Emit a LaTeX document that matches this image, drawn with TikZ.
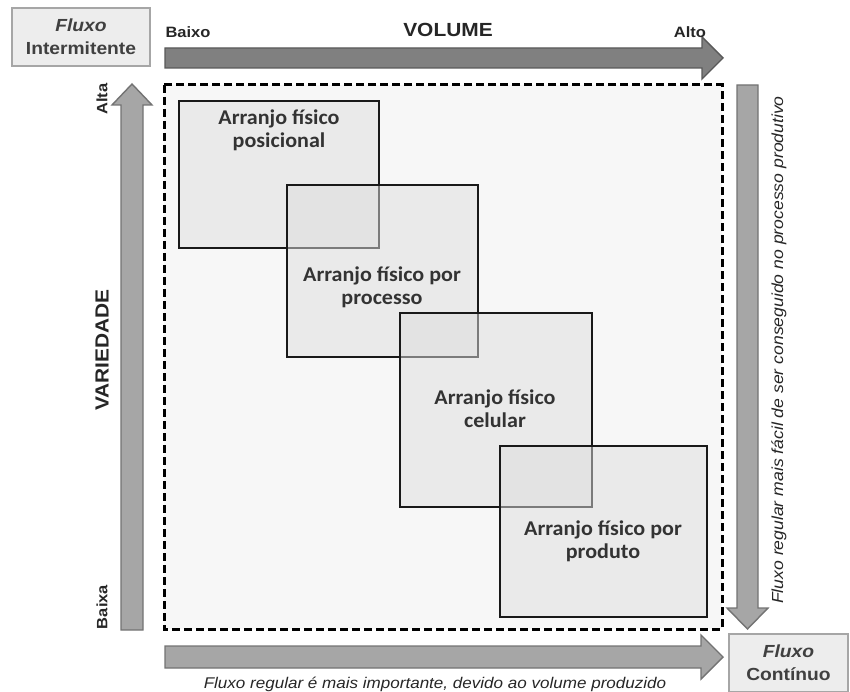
\documentclass[tikz,border=0pt]{standalone}
\usepackage{fontspec}
\setmainfont[FakeStretch=1.1]{Liberation Sans}
\newfontfamily\boxfont[FakeStretch=1.05]{Carlito}
\begin{document}
\begin{tikzpicture}[x=1pt,y=-1pt,
  flowbox/.style={draw=black!35,line width=1.4pt,fill=black!7,align=center,
    inner sep=0pt,minimum height=58pt,text=black!75,
    font=\bfseries\fontsize{17.5}{23}\selectfont},
  scalelab/.style={text=black!85,font=\bfseries\fontsize{15}{16}\selectfont},
  axislab/.style={text=black!85,font=\bfseries\fontsize{19}{22}\selectfont},
  note/.style={text=black!85,font=\itshape\fontsize{15.5}{18}\selectfont},
  axisarrow/.style={line width=1.4pt,draw=black!55,fill=black!35,line join=miter},
  layout/.style={draw=black!90,line width=2.8pt,fill=black!13,fill opacity=.5},
  layouttext/.style={align=center,text=black!80,
    font=\boxfont\bfseries\fontsize{21}{23}\selectfont}]
\useasboundingbox (0,0) rectangle (850,692);

% Dashed frame of the volume / variety field.
\draw[line width=3pt,dash pattern=on 8pt off 4pt,fill=black!3]
  (164,85) rectangle (722,629);

% Block arrows: volume (top), variety (left), regular flow (right, bottom).
\draw[axisarrow,fill=black!50,draw=black!65]
  (165,48) -- (702,48) -- (702,37) -- (723,58) -- (702,79) -- (702,68) -- (165,68) -- cycle;
\draw[axisarrow]
  (121,630) -- (121,105) -- (112,105) -- (132,84) -- (152,105) -- (143,105) -- (143,630) -- cycle;
\draw[axisarrow]
  (737,85) -- (737,608) -- (727,608) -- (747.5,629) -- (768,608) -- (758,608) -- (758,85) -- cycle;
\draw[axisarrow]
  (165,646) -- (701,646) -- (701,635) -- (723,657) -- (701,679) -- (701,668) -- (165,668) -- cycle;

\node[flowbox,minimum width=138pt] (interm) at (81,37) {\textit{Fluxo}\\Intermitente};
\node[flowbox,minimum width=119pt] (contin) at (788.5,663) {\textit{Fluxo}\\Contínuo};

\node[scalelab] (lowvol) at (188,32) {Baixo};
\node[scalelab] (highvol) at (690,32) {Alto};
\node[axislab] (volume) at (448,30) {VOLUME};
\node[scalelab,rotate=90] (highvar) at (102,99) {Alta};
\node[scalelab,rotate=90] (lowvar) at (102,607) {Baixa};
\node[axislab,rotate=90] (variety) at (102,350) {VARIEDADE};

\node[note,font=\itshape\fontsize{16}{18}\selectfont,rotate=90] (flownote) at (779,350)
  {Fluxo regular mais fácil de ser conseguido no processo produtivo};
\node[note] (volnote) at (435,684)
  {Fluxo regular é mais importante, devido ao volume produzido};

% Layout types, drawn in order so each one overlaps the previous.
\foreach \xa/\ya/\xb/\yb in {179/101/379/248,287/185/478/357,
    400/313/592/507,500/446/707/617}
  \draw[layout] (\xa,\ya) rectangle (\xb,\yb);

\foreach \x/\y/\name/\lab in {279/130/posic/{Arranjo físico\\posicional},
    382/287/proc/{Arranjo físico por\\processo},
    495/409/cel/{Arranjo físico\\celular},
    603/541/prod/{Arranjo físico por\\produto}}
  \node[layouttext] (\name) at (\x,\y) {\lab};
\end{tikzpicture}
\end{document}
